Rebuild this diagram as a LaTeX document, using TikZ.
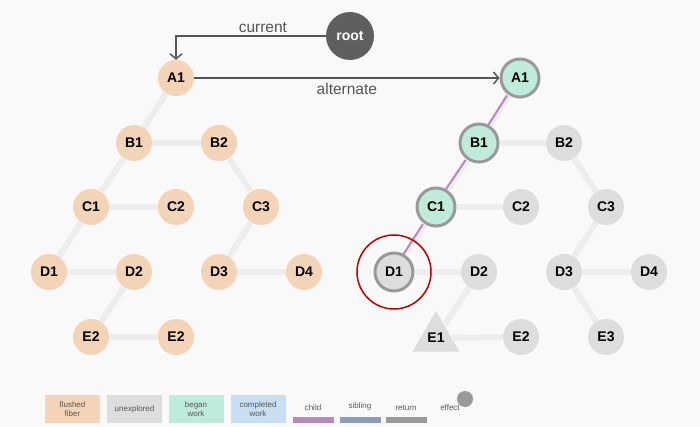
\documentclass[tikz,border=0pt]{standalone}
\usepackage{fontspec}
\setmainfont{Liberation Sans}
\usepackage{tikz}
\usetikzlibrary{shapes.geometric, arrows.meta}
\definecolor{flushedc}{HTML}{F4D4B6}
\definecolor{unexploredc}{HTML}{DDDDDD}
\definecolor{beganc}{HTML}{BFEBDB}
\definecolor{completedc}{HTML}{C8DEF3}
\definecolor{ringc}{HTML}{999999}
\definecolor{rootc}{HTML}{5F5F5F}
\definecolor{linkc}{HTML}{EDEDED}
\definecolor{childc}{HTML}{B68BB9}
\definecolor{siblingc}{HTML}{8C9CBC}
\definecolor{returnc}{HTML}{9A9A9A}
\definecolor{hitc}{HTML}{C00000}
\definecolor{inkc}{HTML}{555555}
\definecolor{bgc}{HTML}{F9F9F9}
\tikzset{
    fiber/.style={circle, fill=flushedc, minimum size=36pt, inner sep=0pt,
        font=\bfseries\fontsize{14}{14}\selectfont},
    todo/.style={fiber, fill=unexploredc},
    began/.style={fiber, fill=beganc},
    ringed/.style={draw=ringc, line width=3pt, minimum size=38pt},
    effectfiber/.style={regular polygon, regular polygon sides=3, fill=unexploredc,
        minimum size=54pt, inner sep=0pt, font=\bfseries\fontsize{14}{14}\selectfont},
    rootnode/.style={circle, fill=rootc, text=white, minimum size=48pt, inner sep=0pt,
        font=\bfseries\fontsize{14}{14}\selectfont},
    link/.style={line width=6pt, linkc},
    child/.style={line width=2pt, childc},
    pointer/.style={line width=1.5pt, inkc, -{Straight Barb[length=5pt, width=12pt]}},
    pointerlabel/.style={text=inkc, font=\fontsize{15.5}{15.5}\selectfont},
    hitring/.style={circle, draw=hitc, line width=1.5pt, minimum size=74pt},
    legendbox/.style={minimum width=55pt, minimum height=28pt, inner sep=0pt, align=center,
        text=inkc, font=\fontsize{8}{9.5}\selectfont},
    legendbar/.style={minimum width=41pt, minimum height=6pt, inner sep=0pt},
    legendtext/.style={text=inkc, font=\fontsize{8}{9.5}\selectfont}
}

\begin{document}
\begin{tikzpicture}[x=1pt, y=-1pt]
    \fill[bgc] (0,0) rectangle (700,427);

    \node[rootnode] (root) at (350,36) {root};

    \node[fiber] (la1) at (176,78) {A1};
    \node[fiber] (lb1) at (134,143) {B1};
    \node[fiber] (lb2) at (219,143) {B2};
    \node[fiber] (lc1) at (91,207) {C1};
    \node[fiber] (lc2) at (176,207) {C2};
    \node[fiber] (lc3) at (261,207) {C3};
    \node[fiber] (ld1) at (49,272) {D1};
    \node[fiber] (ld2) at (134,272) {D2};
    \node[fiber] (ld3) at (219,272) {D3};
    \node[fiber] (ld4) at (304,272) {D4};
    \node[fiber] (le1) at (91,337) {E2};
    \node[fiber] (le2) at (176,337) {E2};

    \node[began, ringed] (ra1) at (520,78) {A1};
    \node[began, ringed] (rb1) at (479,143) {B1};
    \node[todo] (rb2) at (564,143) {B2};
    \node[began, ringed] (rc1) at (436,207) {C1};
    \node[todo] (rc2) at (521,207) {C2};
    \node[todo] (rc3) at (606,207) {C3};
    \node[todo, ringed] (rd1) at (394,272) {D1};
    \node[todo] (rd2) at (479,272) {D2};
    \node[todo] (rd3) at (564,272) {D3};
    \node[todo] (rd4) at (649,272) {D4};
    \node[effectfiber] (re1) at (436,338) {E1};
    \node[todo] (re2) at (521,337) {E2};
    \node[todo] (re3) at (606,337) {E3};

    \draw[link] (la1) -- (lb1) -- (lc1) -- (ld1) -- (ld2) -- (le1) -- (le2);
    \draw[link] (lb1) -- (lb2) -- (lc3) -- (ld3) -- (ld4);
    \draw[link] (lc1) -- (lc2);

    \draw[link] (ra1) -- (rb1) -- (rc1) -- (rd1) -- (rd2) -- (re1) -- (re2);
    \draw[link] (rb1) -- (rb2) -- (rc3) -- (rd3) -- (rd4);
    \draw[link] (rc1) -- (rc2);
    \draw[link] (rd3) -- (re3);
    \draw[child, transform canvas={xshift=-2pt}] (ra1) -- (rb1) -- (rc1) -- (rd1);

    \node[hitring] (hit) at (rd1) {};

    \draw[pointer] (root) -| node[pointerlabel, pos=0.21, above=-1pt] {current} (la1);
    \draw[pointer] (la1) -- node[pointerlabel, below=1pt] {alternate} (ra1);

    \node[legendbox, fill=flushedc] (kflushed) at (72.5,409) {flushed\\fiber};
    \node[legendbox, fill=unexploredc] (kunexplored) at (134.5,409) {unexplored};
    \node[legendbox, fill=beganc] (kbegan) at (196,409) {began\\work};
    \node[legendbox, fill=completedc] (kcompleted) at (258,409) {completed\\work};
    \node[legendbar, fill=childc, label={[legendtext, label distance=3pt]above:child}] (kchild) at (313,420) {};
    \node[legendbar, fill=siblingc, label={[legendtext, label distance=3pt]above:sibling}] (ksibling) at (360,420) {};
    \node[legendbar, fill=returnc, label={[legendtext, label distance=3pt]above:return}] (kreturn) at (406,420) {};
    \node[legendtext] (keffect) at (450,408) {effect};
    \node[circle, fill=returnc, minimum size=16pt, inner sep=0pt] (kdot) at (465,399) {};
\end{tikzpicture}
\end{document}
